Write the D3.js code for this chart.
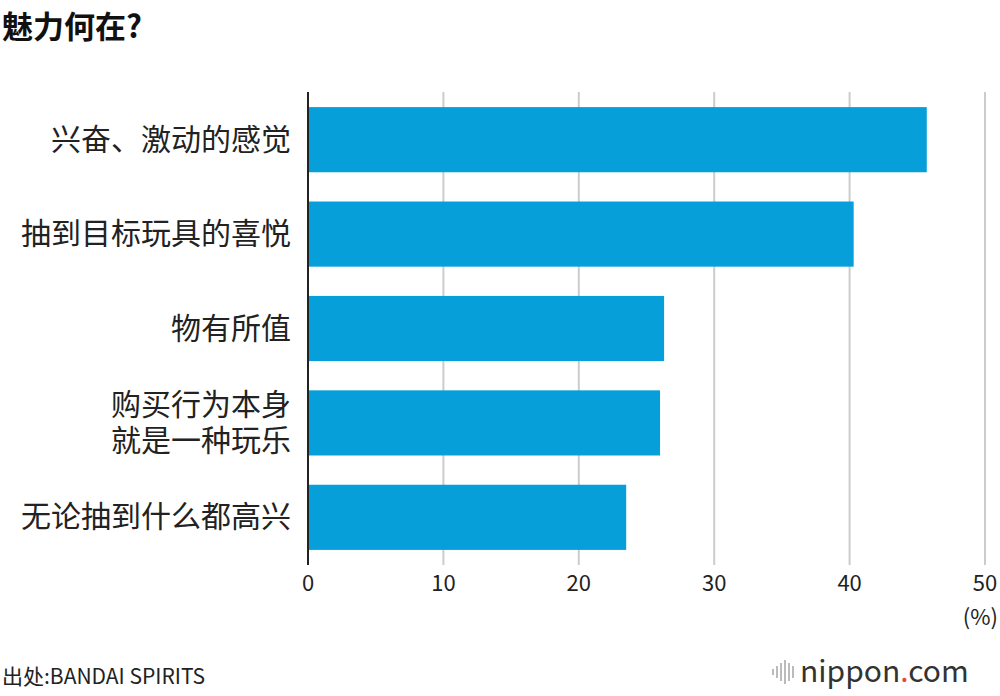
<!DOCTYPE html>
<html><head><meta charset="utf-8">
<script src="https://cdn.jsdelivr.net/npm/d3@7"></script>
<style>body{margin:0;background:#fff}text{font-family:"Noto Sans CJK SC","Noto Sans",sans-serif}</style>
</head><body>
<svg id="chart" width="1000" height="696"></svg>
<script>
// chart data
const categories = [["兴奋、激动的感觉"], ["抽到目标玩具的喜悦"], ["物有所值"], ["购买行为本身", "就是一种玩乐"], ["无论抽到什么都高兴"]];
const values = [45.7, 40.3, 26.3, 26.0, 23.5];
const ticks = [0, 10, 20, 30, 40, 50];

const svg = d3.select('#chart');
const x = d3.scaleLinear().domain([0, 50]).range([308, 985]);
const y = d3.scaleBand().domain(d3.range(values.length)).range([92, 565]).paddingInner(0.31).paddingOuter(0.16);

svg.append('text').attr('x', 2).attr('y', 38).attr('font-size', 31).attr('font-weight', 700).attr('fill', '#111').text('魅力何在?');

// gridlines
svg.selectAll('.grid').data(ticks.slice(1)).enter().append('line')
    .attr('x1', d => x(d)).attr('x2', d => x(d)).attr('y1', 92).attr('y2', 565)
    .attr('stroke', '#ccc').attr('stroke-width', 2);

svg.selectAll('.bar').data(values).enter().append('rect')
    .attr('x', x(0)).attr('y', (d, i) => y(i)).attr('width', d => x(d) - x(0)).attr('height', y.bandwidth())
    .attr('fill', '#069fda');

svg.append('line').attr('x1', x(0)).attr('x2', x(0)).attr('y1', 92).attr('y2', 565).attr('stroke', '#222').attr('stroke-width', 2);

const lab = svg.selectAll('.lab').data(categories).enter().append('text')
    .attr('text-anchor', 'end').attr('font-size', 30).attr('fill', '#222')
    .attr('y', (d, i) => y(i) + y.bandwidth() / 2 - (d.length - 1) * 18 + 10);
lab.selectAll('tspan').data(d => d).enter().append('tspan')
    .attr('x', 291).attr('dy', (d, j) => j ? 36 : 0).text(d => d);

svg.selectAll('.tick').data(ticks).enter().append('text')
    .attr('x', d => x(d)).attr('y', 591).attr('text-anchor', 'middle')
    .attr('font-size', 22).attr('fill', '#222').text(d => d);
svg.append('text').attr('x', 998).attr('y', 625).attr('text-anchor', 'end').attr('font-size', 22).attr('fill', '#222').text('(%)');

svg.append('text').attr('x', 2).attr('y', 684).attr('font-size', 21).attr('fill', '#222').text('出处:BANDAI SPIRITS');

// logo
const bars = [6, 12, 18, 24, 18, 12];
svg.selectAll('.lg').data(bars).enter().append('rect')
    .attr('x', (d, i) => 772 + i * 4).attr('y', d => 672 - d / 2).attr('width', 2).attr('height', d => d).attr('fill', '#bbb');
const t = svg.append('text').attr('x', 800).attr('y', 682).attr('font-size', 30).attr('fill', '#333').attr('font-family', 'Lato, sans-serif');
t.append('tspan').text('nippon');
t.append('tspan').attr('fill', '#e43').text('.');
t.append('tspan').text('com');
</script>
</body></html>
